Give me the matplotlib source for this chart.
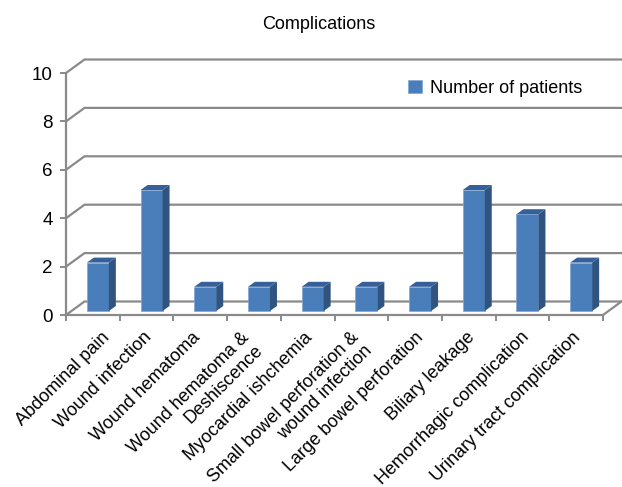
import matplotlib
matplotlib.use("Agg")
import matplotlib.pyplot as plt
from matplotlib.patches import Patch, Polygon
from matplotlib.transforms import ScaledTranslation

plt.rcParams['font.family'] = ['Liberation Sans', 'DejaVu Sans']

categories = ['Abdominal pain', 'Wound infection', 'Wound hematoma',
              'Wound hematoma &\nDeshiscence', 'Myocardial ishchemia',
              'Small bowel perforation &\nwound infection',
              'Large bowel perforation', 'Biliary leakage',
              'Hemorrhagic complication', 'Urinary tract complication']
patients = [2, 5, 1, 1, 1, 1, 1, 5, 4, 2]
yticks = [0, 2, 4, 6, 8, 10]
# sideways nudge of each rotated label, in pixels
label_nudge = [12, 0, -5, -9, 0, -7, 4, 1, 2, 0]

W, H = 622, 487
grey = '#8a8a8a'
front = '#4a7ebb'
side = '#2f5480'
top = '#36609a'

fig = plt.figure(figsize=(W / 100, H / 100), dpi=100)
ax = fig.add_axes([66 / W, 1 - 315 / H, 537 / W, 242 / H])
n = len(categories)
ax.set_xlim(-0.5, n - 0.5)
ax.set_ylim(0, 10)

# wall / floor depth, in data units
wall_x = 18.5 / 53.7
wall_y = 13.5 / 24.2
# bar depth and where it sits on the floor
bar_x = 7 / 53.7
bar_y = 5 / 24.2
shift = 5 / 53.7
base = 4 / 24.2
width = 22 / 53.7

# gridlines on the wall ------------------------------------------------------
for v in yticks:
    ax.plot([-0.5, -0.5 + wall_x, n - 0.5 + wall_x], [v, v + wall_y, v + wall_y],
            color=grey, lw=1.6, clip_on=False, zorder=1, solid_joinstyle='miter')
ax.plot([n - 0.5, n - 0.5 + wall_x], [0, wall_y], color=grey, lw=1.6,
        clip_on=False, zorder=1)

# bars -----------------------------------------------------------------------
xs = [i + shift for i in range(n)]
ax.bar(xs, patients, width=width, bottom=base, color=front,
       edgecolor='#7fa6d6', linewidth=0.5, zorder=3, clip_on=False)
for x, p in zip(xs, patients):
    l, r = x - width / 2, x + width / 2
    t = base + p
    ax.add_patch(Polygon([(r, base), (r + bar_x, base + bar_y),
                          (r + bar_x, t + bar_y), (r, t)],
                         facecolor=side, edgecolor='none', zorder=3, clip_on=False))
    ax.add_patch(Polygon([(l, t), (l + bar_x, t + bar_y),
                          (r + bar_x, t + bar_y), (r, t)],
                         facecolor=top, edgecolor='none', zorder=3, clip_on=False))

# axes -----------------------------------------------------------------------
for s in ['top', 'right']:
    ax.spines[s].set_visible(False)
for s in ['left', 'bottom']:
    ax.spines[s].set_color(grey)
    ax.spines[s].set_linewidth(1.6)
ax.set_yticks(yticks)
ax.set_xticks([i - 0.5 for i in range(n + 1)])
ax.set_xticklabels([])
ax.tick_params(axis='both', which='major', color=grey, width=1.4, length=4.5,
               labelsize=13.5)
ax.tick_params(axis='y', pad=5)

ax.set_xticks(range(n), minor=True)
ax.set_xticklabels(categories, minor=True, rotation=45, ha='right',
                   va='top', rotation_mode='anchor', fontsize=13,
                   linespacing=1.1, multialignment='right')
ax.tick_params(axis='x', which='minor', length=0, pad=10)
for lab, nudge in zip(ax.get_xticklabels(minor=True), label_nudge):
    offset = ScaledTranslation((nudge - 4) / 100, 0, fig.dpi_scale_trans)
    lab.set_transform(lab.get_transform() + offset)

ax.set_title('Complications', x=(319 - 66) / 537, y=1, pad=31.5, fontsize=13)

ax.legend(handles=[Patch(facecolor=front, edgecolor='#7fa6d6', linewidth=0.5,
                         label='Number of patients')],
          loc='upper left', bbox_to_anchor=(0.62, 1.008), frameon=False,
          fontsize=13, handlelength=0.75, handleheight=0.75, handletextpad=0.45,
          borderpad=0.3, borderaxespad=0.2)

fig.savefig('out.png', dpi=100)
